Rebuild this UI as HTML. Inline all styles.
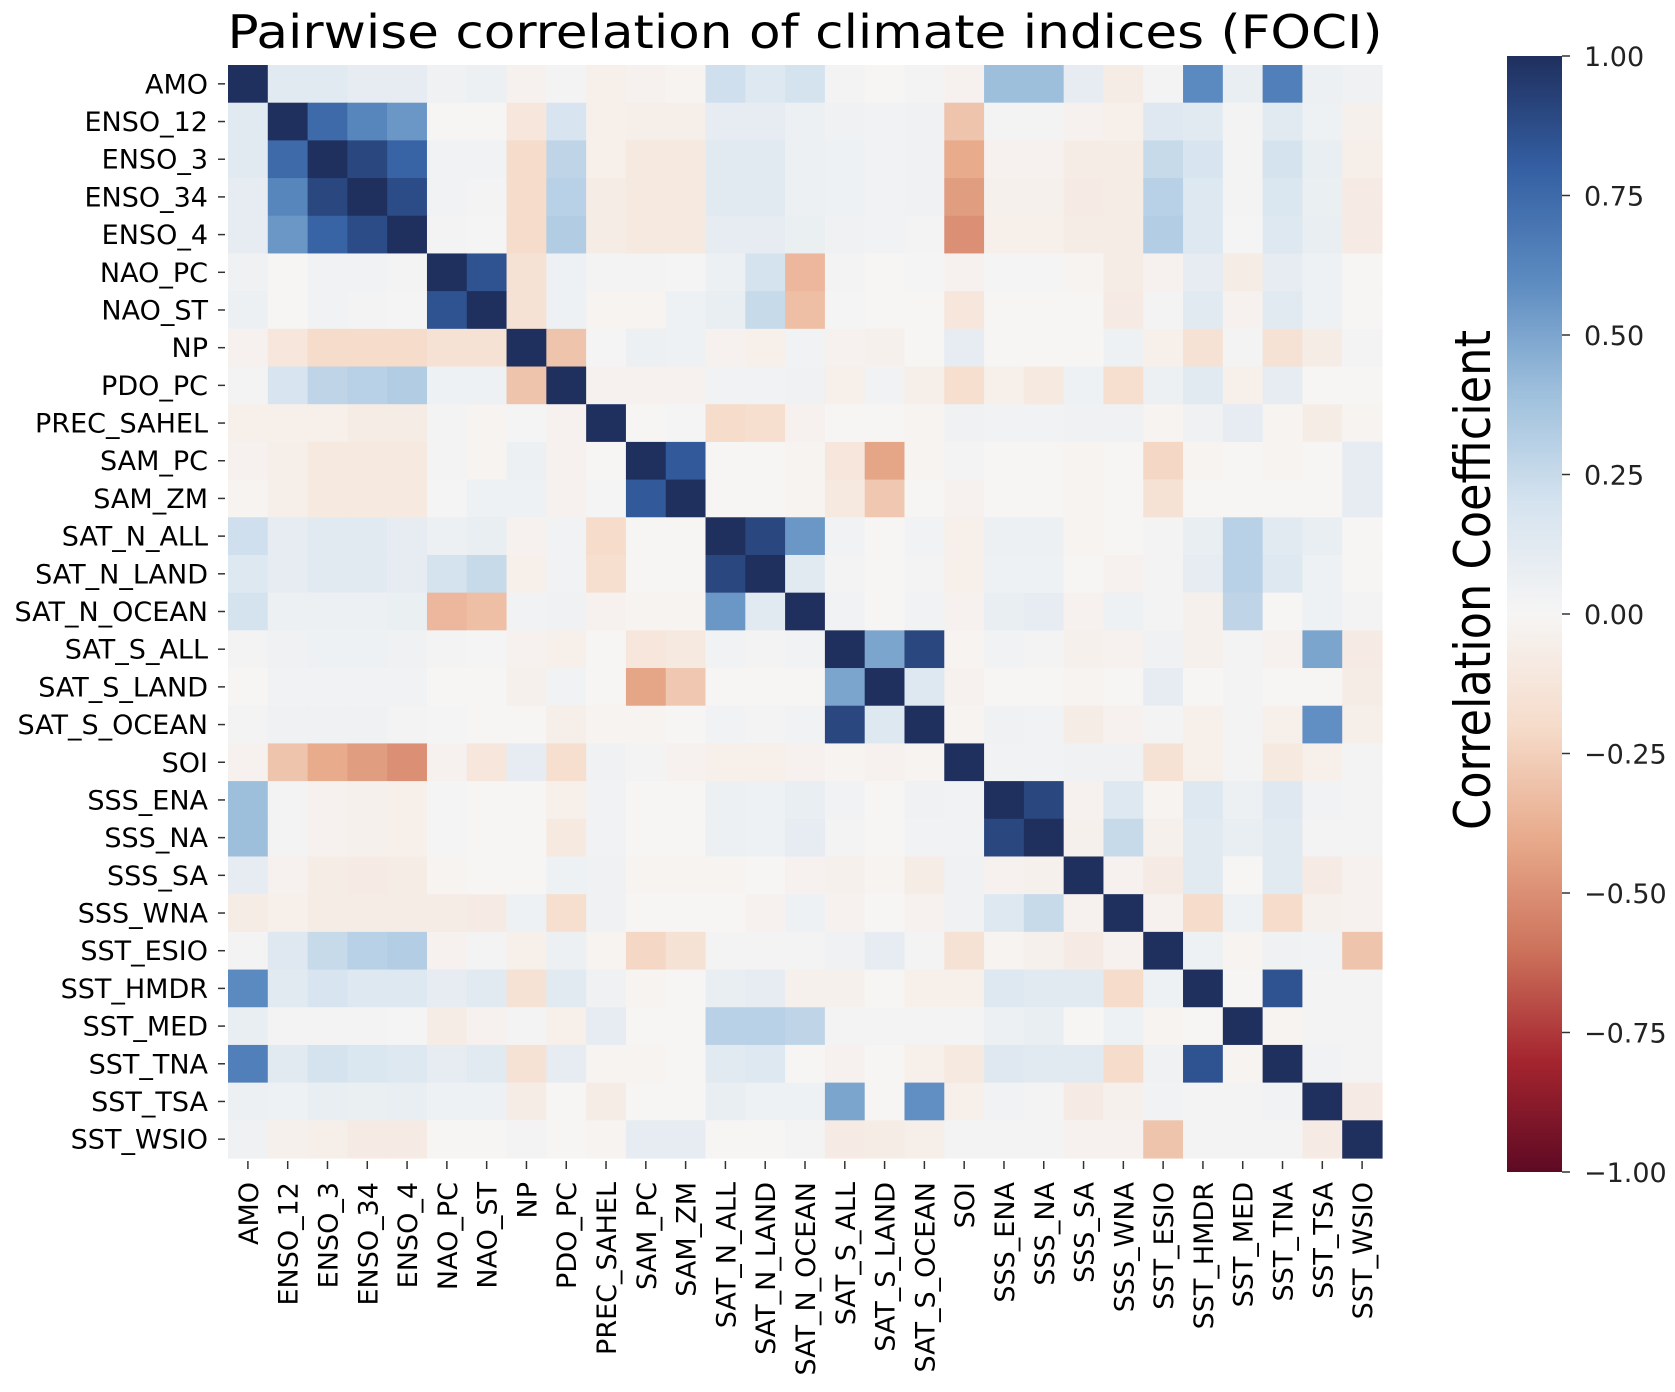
<!DOCTYPE html>
<html><head><meta charset="utf-8"><title>Pairwise correlation of climate indices (FOCI)</title>
<style>
html,body{margin:0;padding:0;background:#fff;}
svg{display:block;font-family:"DejaVu Sans","Liberation Sans",sans-serif;}
</style></head>
<body>
<svg id="chart" width="1675" height="1392" viewBox="0 0 1675 1392" xmlns="http://www.w3.org/2000/svg">
<defs>
<linearGradient id="cbgrad" x1="0" y1="1" x2="0" y2="0">
<stop offset="0" stop-color="#5e0a24"/><stop offset="0.1" stop-color="#a5252f"/><stop offset="0.2" stop-color="#cd735c"/><stop offset="0.3" stop-color="#e8ab8c"/><stop offset="0.4" stop-color="#f6dccb"/><stop offset="0.5" stop-color="#f6f5f4"/><stop offset="0.6" stop-color="#d5e3ef"/><stop offset="0.7" stop-color="#9dbfdc"/><stop offset="0.8" stop-color="#5b8ac0"/><stop offset="0.9" stop-color="#345fa2"/><stop offset="1" stop-color="#1f2f5e"/>
</linearGradient>
</defs>
<text x="805" y="48" text-anchor="middle" font-size="46" textLength="1155" lengthAdjust="spacingAndGlyphs" fill="#000">Pairwise correlation of climate indices (FOCI)</text>
<g id="cells"></g>
<g id="yaxis"></g>
<g id="xaxis"></g>
<rect x="1507" y="56" width="55" height="1116" fill="url(#cbgrad)"/>
<g id="cbaxis"></g>
<text transform="translate(1490,580) rotate(-90)" text-anchor="middle" font-size="50" textLength="500" lengthAdjust="spacingAndGlyphs" fill="#000">Correlation Coefficient</text>
</svg>
<script>
const labels = ["AMO","ENSO_12","ENSO_3","ENSO_34","ENSO_4","NAO_PC","NAO_ST","NP","PDO_PC","PREC_SAHEL","SAM_PC","SAM_ZM","SAT_N_ALL","SAT_N_LAND","SAT_N_OCEAN","SAT_S_ALL","SAT_S_LAND","SAT_S_OCEAN","SOI","SSS_ENA","SSS_NA","SSS_SA","SSS_WNA","SST_ESIO","SST_HMDR","SST_MED","SST_TNA","SST_TSA","SST_WSIO"];
// upper triangle values: row i holds correlations with columns i+1..28
const upper = [
[0.12,0.13,0.10,0.10,0.04,0.06,-0.03,0.02,-0.05,-0.03,-0.02,0.22,0.15,0.20,0.02,0.00,0.02,-0.03,0.40,0.40,0.10,-0.07,0.02,0.60,0.08,0.65,0.06,0.04],
[0.75,0.62,0.55,0.00,0.00,-0.12,0.18,-0.05,-0.06,-0.06,0.10,0.10,0.06,0.04,0.03,0.04,-0.30,0.02,0.02,-0.03,-0.05,0.14,0.12,0.02,0.12,0.05,-0.04],
[0.90,0.78,0.03,0.03,-0.20,0.28,-0.05,-0.10,-0.10,0.12,0.12,0.06,0.05,0.03,0.04,-0.40,-0.03,-0.03,-0.07,-0.07,0.25,0.18,0.02,0.20,0.08,-0.06],
[0.88,0.03,0.02,-0.20,0.30,-0.07,-0.10,-0.10,0.12,0.12,0.06,0.05,0.03,0.04,-0.45,-0.04,-0.04,-0.08,-0.07,0.30,0.15,0.02,0.17,0.07,-0.08],
[0.02,0.01,-0.20,0.33,-0.07,-0.10,-0.10,0.10,0.10,0.07,0.04,0.03,0.02,-0.50,-0.05,-0.05,-0.07,-0.07,0.32,0.15,0.01,0.15,0.08,-0.08],
[0.85,-0.15,0.05,0.02,0.02,0.01,0.06,0.20,-0.35,0.02,0.00,0.01,-0.03,0.01,0.01,-0.02,-0.07,-0.03,0.10,-0.07,0.10,0.05,0.00],
[-0.15,0.05,-0.02,-0.02,0.05,0.08,0.25,-0.32,0.01,0.00,0.00,-0.12,0.00,0.00,0.00,-0.08,0.02,0.12,-0.03,0.12,0.05,0.00],
[-0.30,0.01,0.06,0.05,-0.03,-0.05,0.03,-0.03,-0.04,0.00,0.10,0.00,0.00,0.00,0.05,-0.05,-0.15,0.02,-0.15,-0.07,0.02],
[-0.03,-0.03,-0.03,0.03,0.03,0.04,-0.05,0.03,-0.06,-0.18,-0.05,-0.10,0.05,-0.18,0.06,0.12,-0.05,0.10,0.00,0.00],
[0.00,0.01,-0.20,-0.18,-0.03,0.00,0.00,-0.02,0.04,0.03,0.03,0.04,0.04,-0.02,0.04,0.10,-0.02,-0.07,-0.02],
[0.82,0.00,0.00,-0.02,-0.12,-0.42,-0.02,0.02,0.00,0.00,-0.02,0.00,-0.22,-0.02,0.00,-0.02,0.00,0.10],
[0.00,0.00,-0.02,-0.10,-0.28,0.00,-0.03,0.00,0.00,-0.02,0.00,-0.15,0.00,0.00,0.00,0.00,0.10],
[0.90,0.55,0.03,0.00,0.03,-0.05,0.06,0.06,-0.02,0.00,0.02,0.08,0.30,0.12,0.08,0.00],
[0.12,0.02,0.00,0.02,-0.05,0.05,0.05,0.00,-0.03,0.02,0.10,0.30,0.15,0.05,0.00],
[0.03,0.00,0.03,-0.03,0.08,0.10,-0.03,0.05,0.02,-0.04,0.28,0.00,0.05,0.02],
[0.50,0.90,-0.02,0.03,0.02,-0.04,-0.03,0.04,-0.04,0.02,-0.03,0.50,-0.08],
[0.15,-0.03,0.00,0.00,-0.02,0.00,0.10,0.00,0.02,0.00,0.00,-0.07],
[-0.02,0.04,0.03,-0.07,-0.03,0.02,-0.05,0.02,-0.05,0.58,-0.06],
[0.03,0.03,0.04,0.04,-0.15,-0.05,0.02,-0.10,-0.05,0.02],
[0.90,-0.03,0.15,-0.02,0.15,0.06,0.14,0.03,0.02],
[-0.04,0.25,-0.04,0.12,0.08,0.12,0.02,0.02],
[-0.03,-0.08,0.12,0.00,0.12,-0.08,-0.03],
[-0.03,-0.20,0.05,-0.20,-0.04,-0.03],
[0.05,-0.02,0.04,0.03,-0.30],
[0.00,0.85,0.02,0.02],
[-0.02,0.02,0.02],
[0.03,0.02],
[-0.08],
[]
];
const cbTicks = [1.00,0.75,0.50,0.25,0.00,-0.25,-0.50,-0.75,-1.00];

const NS = "http://www.w3.org/2000/svg";
const n = labels.length;
const X0 = 228, X1 = 1382, Y0 = 65, Y1 = 1158;
const cw = (X1 - X0) / n, ch = (Y1 - Y0) / n;
const xPos = i => X0 + i * cw;
const yPos = i => Y0 + i * ch;
const CB_TOP = 56, CB_BOT = 1172;
const cbY = v => CB_TOP + (1 - v) / 2 * (CB_BOT - CB_TOP);

const stops = [[-1,[94,10,36]],[-0.8,[165,37,47]],[-0.6,[205,115,92]],[-0.4,[232,171,140]],[-0.2,[246,220,203]],[0,[246,245,244]],[0.2,[213,227,239]],[0.4,[157,191,220]],[0.6,[91,138,192]],[0.8,[52,95,162]],[1,[31,47,94]]];
function color(v) {
  v = Math.max(-1, Math.min(1, v));
  for (let k = 0; k < stops.length - 1; k++) {
    const [a, ca] = stops[k], [b, cb] = stops[k + 1];
    if (v <= b) {
      const t = (v - a) / (b - a);
      const c = ca.map((x, j) => Math.round(x + (cb[j] - x) * t));
      return "rgb(" + c.join(",") + ")";
    }
  }
  return "rgb(31,47,94)";
}
function val(i, j) {
  if (i === j) return 1;
  if (i < j) return upper[i][j - i - 1];
  return upper[j][i - j - 1];
}
function mk(tag, attrs, parent) {
  const e = document.createElementNS(NS, tag);
  for (const k in attrs) e.setAttribute(k, attrs[k]);
  parent.appendChild(e);
  return e;
}
const cells = document.getElementById("cells");
for (let i = 0; i < n; i++) {
  for (let j = 0; j < n; j++) {
    const r = mk("rect", {x: xPos(j).toFixed(2), y: yPos(i).toFixed(2), width: (cw + 0.6).toFixed(2), height: (ch + 0.6).toFixed(2), fill: color(val(i, j))}, cells);
    
    
  }
}
const yaxis = document.getElementById("yaxis");
const xaxis = document.getElementById("xaxis");
for (let i = 0; i < n; i++) {
  const cy = yPos(i) + ch / 2;
  const t = mk("line", {x1: 218, x2: 225, y1: cy, y2: cy, stroke: "#333", "stroke-width": 1.5}, yaxis);
  
  
  const lab = mk("text", {x: 208, y: cy + 9.5, "text-anchor": "end", "font-size": 27, fill: "#000"}, yaxis);
  lab.textContent = labels[i];
  
  
  const cx = xPos(i) + cw / 2;
  const tx = mk("line", {x1: cx, x2: cx, y1: 1161, y2: 1169, stroke: "#333", "stroke-width": 1.5}, xaxis);
  
  
  const xl = mk("text", {transform: "translate(" + (cx + 10).toFixed(2) + ",1182) rotate(-90)", "text-anchor": "end", "font-size": 27, fill: "#000"}, xaxis);
  xl.textContent = labels[i];
  
  
}
const cbaxis = document.getElementById("cbaxis");
for (const v of cbTicks) {
  const y = cbY(v);
  const t = mk("line", {x1: 1562, x2: 1570, y1: y, y2: y, stroke: "#333", "stroke-width": 1.5}, cbaxis);
  
  
  const l = mk("text", {x: 1584, y: y + 10, "font-size": 27, fill: "#222"}, cbaxis);
  l.textContent = (v < 0 ? "\u2212" : "") + Math.abs(v).toFixed(2);
  
  
}
</script>
</body></html>
